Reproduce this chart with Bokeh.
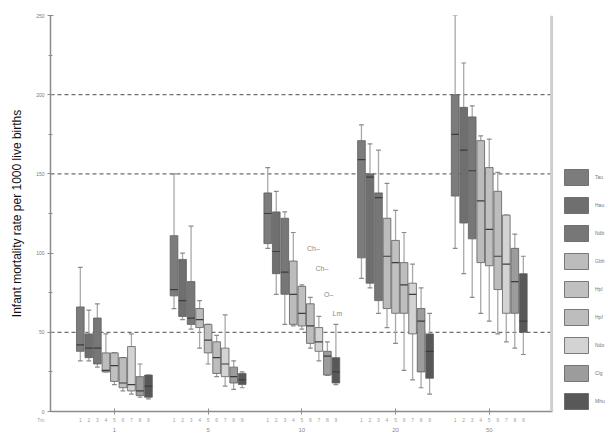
from bokeh.plotting import figure
from bokeh.models import (ColumnDataSource, FixedTicker, LinearAxis, Range1d,
                          Span, Legend, LegendItem)
from bokeh.core.properties import value
from bokeh.embed import file_html
from bokeh.resources import INLINE

# ---------------- data ----------------
group_labels = ["1", "5", "10", "20", "50"]
sub_labels = ["1", "2", "3", "4", "5", "6", "7", "8", "9"]
axis_corner_label = "Tm"
series_names = ["Tau", "Hau", "Ndb", "Gbh", "Hpl", "Hpf", "Ndo", "Clg", "Mhu"]
series_colors = ["#7c7c7c", "#6f6f6f", "#777777", "#bcbcbc", "#c0c0c0",
                 "#bdbdbd", "#d3d3d3", "#9c9c9c", "#585858"]

# one row per group, one value per series
whisker_low = [
    [32, 32, 28, 25, 17, 13, 11, 9, 8],
    [65, 58, 52, 40, 30, 22, 16, 14, 15],
    [103, 74, 55, 54, 52, 40, 32, 23, 17],
    [84, 78, 62, 53, 43, 26, 20, 15, 11],
    [103, 87, 72, 62, 57, 49, 44, 40, 36],
]
quartile_1 = [
    [38, 34, 30, 25, 19, 15, 13, 10, 9],
    [73, 60, 55, 53, 37, 24, 22, 18, 17],
    [106, 87, 74, 55, 54, 43, 38, 23, 18],
    [97, 81, 70, 65, 62, 62, 49, 25, 21],
    [136, 119, 109, 94, 92, 77, 62, 62, 50],
]
median = [
    [42, 40, 40, 26, 29, 18, 17, 13, 16],
    [77, 70, 59, 58, 45, 34, 30, 22, 20],
    [125, 101, 88, 74, 62, 54, 44, 35, 25],
    [159, 148, 135, 98, 94, 80, 74, 57, 38],
    [175, 165, 152, 133, 115, 98, 93, 82, 57],
]
quartile_3 = [
    [66, 49, 59, 37, 37, 34, 41, 22, 23],
    [111, 96, 82, 65, 55, 44, 40, 28, 24],
    [138, 126, 122, 95, 79, 68, 53, 38, 34],
    [171, 150, 138, 122, 108, 94, 81, 65, 49],
    [200, 192, 186, 171, 154, 139, 124, 103, 87],
]
whisker_high = [
    [91, 64, 68, 49, 37, 34, 49, 30, 23],
    [150, 100, 117, 70, 55, 48, 61, 32, 25],
    [154, 139, 126, 113, 80, 72, 60, 44, 55],
    [181, 169, 165, 144, 127, 113, 93, 78, 62],
    [250, 220, 193, 174, 172, 151, 124, 112, 98],
]

# labelled outliers (group 3)
outlier_group = 2
outlier_series = [4, 5, 6, 7]
outlier_values = [103, 90, 74, 62]
outlier_labels = ["Ch\u2013", "Ch\u2013", "O\u2013", "Lm"]

y_major = [0, 50, 100, 150, 200, 250]
y_minor = [25, 75, 125, 175, 225]
reference_lines = [50, 150, 200]

# ---------------- layout helpers ----------------
GROUP_STEP = 11
n_groups = len(group_labels)
n_series = len(series_names)
group_centers = [g * GROUP_STEP + (n_series - 1) // 2 for g in range(n_groups)]
box_positions = [g * GROUP_STEP + s for g in range(n_groups) for s in range(n_series)]

X_START, X_BORDER, X_END = -3.5, 55.42, 62.35
FONT = "Liberation Sans"

p = figure(width=611, height=434, output_backend="svg", toolbar_location=None,
           x_range=Range1d(X_START, X_END), y_range=Range1d(0, 250),
           min_border_left=50, min_border_top=15, min_border_right=0,
           min_border_bottom=0, background_fill_color="white",
           border_fill_color="white", outline_line_color=None)
p.xgrid.visible = False
p.ygrid.visible = False

ref_src = ColumnDataSource(dict(x0=[X_START] * len(reference_lines),
                                x1=[X_BORDER] * len(reference_lines),
                                y=reference_lines))
p.segment(x0="x0", y0="y", x1="x1", y1="y", source=ref_src,
          line_color="#6e6e6e", line_dash="4 3", line_width=1.2)
p.add_layout(Span(location=X_BORDER - 0.1, dimension="height",
                  line_color="#cfcfcf", line_width=3))

items = []
cap = 0.28
med_half = 0.45
for s in range(n_series):
    xs = [g * GROUP_STEP + s for g in range(n_groups)]
    src = ColumnDataSource(dict(
        x=xs,
        xl=[x - cap for x in xs], xr=[x + cap for x in xs],
        ml=[x - med_half for x in xs], mr=[x + med_half for x in xs],
        low=[whisker_low[g][s] for g in range(n_groups)],
        q1=[quartile_1[g][s] for g in range(n_groups)],
        med=[median[g][s] for g in range(n_groups)],
        q3=[quartile_3[g][s] for g in range(n_groups)],
        high=[whisker_high[g][s] for g in range(n_groups)],
    ))
    wc = "#a9a9a9"
    p.segment(x0="x", y0="low", x1="x", y1="q1", source=src, line_color=wc, line_width=1.3)
    p.segment(x0="x", y0="q3", x1="x", y1="high", source=src, line_color=wc, line_width=1.3)
    p.segment(x0="xl", y0="low", x1="xr", y1="low", source=src, line_color="#8a8a8a", line_width=1.2)
    p.segment(x0="xl", y0="high", x1="xr", y1="high", source=src, line_color="#8a8a8a", line_width=1.2)
    r = p.vbar(x="x", width=0.9, bottom="q1", top="q3", source=src,
               fill_color=series_colors[s], line_color="#5e5e5e", line_width=0.8)
    p.segment(x0="ml", y0="med", x1="mr", y1="med", source=src, line_color="#3c3c3c", line_width=1.2)
    items.append(LegendItem(label=series_names[s], renderers=[r]))

osrc = ColumnDataSource(dict(
    x=[outlier_group * GROUP_STEP + s + 0.6 for s in outlier_series],
    y=outlier_values, t=outlier_labels))
p.text(x="x", y="y", text="t", source=osrc, text_font=value(FONT),
       text_font_size="7px", text_color="#8a8a8a", text_align="left",
       text_baseline="middle")

# y axis
ya = p.yaxis[0]
ya.ticker = FixedTicker(ticks=y_major, minor_ticks=y_minor)
ya.axis_label = "Infant mortality rate per 1000 live births"
ya.axis_label_text_font = FONT
ya.axis_label_text_font_style = "normal"
ya.axis_label_text_font_size = "12px"
ya.axis_label_text_color = "#111111"
ya.axis_label_standoff = 9
ya.major_label_text_font = FONT
ya.major_label_text_font_size = "5px"
ya.major_label_text_color = "#7a7a7a"
ya.major_label_standoff = 3
ya.axis_line_color = "#8c8c8c"
ya.axis_line_width = 1.5
ya.major_tick_in = 3
ya.major_tick_out = 3
ya.minor_tick_in = 2
ya.minor_tick_out = 2
ya.major_tick_line_color = "#8c8c8c"
ya.minor_tick_line_color = "#8c8c8c"

# x axis: sub labels (plus the corner label at the left end)
corner_tick = X_START + 0.01
xa = p.xaxis[0]
xa.bounds = (X_START, X_BORDER)
xa.ticker = FixedTicker(ticks=[corner_tick] + box_positions, minor_ticks=group_centers)
overrides = {pos: sub_labels[i % n_series] for i, pos in enumerate(box_positions)}
overrides[corner_tick] = axis_corner_label + "\u00a0" * 14
xa.major_label_overrides = overrides
xa.major_label_text_font = FONT
xa.major_label_text_font_size = "5px"
xa.major_label_text_color = "#a0a0a0"
xa.major_label_standoff = 2
xa.major_tick_in = 0
xa.major_tick_out = 0
xa.minor_tick_in = 3
xa.minor_tick_out = 3
xa.minor_tick_line_color = "#8c8c8c"
xa.axis_line_color = "#8c8c8c"
xa.axis_line_width = 1.5

# x axis: group labels
xb = LinearAxis(ticker=FixedTicker(ticks=group_centers, minor_ticks=[]),
                major_label_overrides={c: group_labels[i] for i, c in enumerate(group_centers)},
                axis_line_color=None, major_tick_line_color=None,
                minor_tick_line_color=None, major_label_standoff=2,
                major_tick_in=0, major_tick_out=0,
                major_label_text_font=FONT, major_label_text_font_size="6px",
                major_label_text_color="#8a8a8a")
p.add_layout(xb, "below")

legend = Legend(items=items, location=(511, 0), orientation="vertical",
                glyph_width=30, glyph_height=20, spacing=8, padding=0, margin=0,
                label_standoff=4, label_text_font=FONT, label_text_font_size="5px",
                label_text_color="#777777", border_line_color=None,
                background_fill_alpha=0)
p.add_layout(legend, "center")

open("out.html", "w").write(file_html(p, INLINE))
